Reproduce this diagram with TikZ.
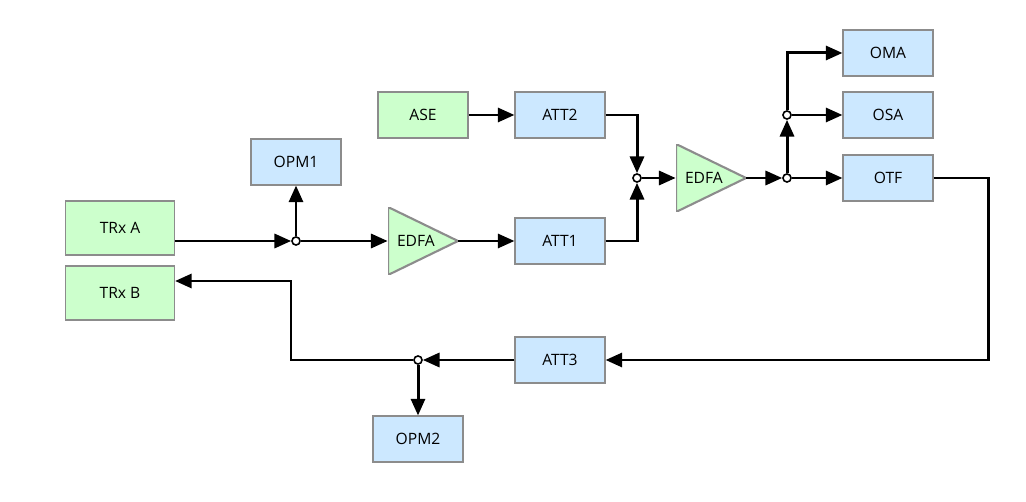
\documentclass[tikz,border=0pt]{standalone}
\usepackage{fontspec}
\setmainfont{Open Sans}
\usetikzlibrary{arrows.meta}
\definecolor{boxblue}{RGB}{204,232,255}
\definecolor{boxgreen}{RGB}{204,255,204}
\definecolor{boxline}{RGB}{140,140,140}
\begin{document}
\begin{tikzpicture}[x=0.02cm,y=-0.02cm,
      font=\fontsize{8.9}{10}\selectfont,
      unit box/.style={rectangle,draw=boxline,line width=0.6pt,fill=boxblue,
        minimum width=1.8cm,minimum height=0.92cm,inner sep=0pt},
      src box/.style={unit box,fill=boxgreen},
      trx box/.style={src box,minimum width=2.18cm,minimum height=1.08cm},
      amp node/.style={rectangle,minimum width=1.4cm,minimum height=1.36cm,
        inner xsep=0.18cm,inner ysep=0pt,text width=1.04cm,align=left,
        path picture={\draw[fill=boxgreen,draw=boxline,line width=1.2pt]
          (path picture bounding box.north west) -- (path picture bounding box.east)
          -- (path picture bounding box.south west) -- cycle;}},
      junction/.style={circle,draw,fill=white,line width=0.9pt,inner sep=0pt,minimum size=4.6pt},
      link/.style={line width=1.7pt,-{Triangle[length=9.5pt,width=8pt]}}]

      \useasboundingbox (0,0) rectangle (1026,502);

      % sources and units
      \node[trx box] (trxa) at (120,228) {TRx A};
      \node[trx box] (trxb) at (120,293) {TRx B};
      \node[unit box] (opm1) at (296,162) {OPM1};
      \node[src box] (ase) at (423,115) {ASE};
      \node[unit box] (att2) at (560,115) {ATT2};
      \node[unit box] (att1) at (560,241) {ATT1};
      \node[unit box] (oma) at (888,53) {OMA};
      \node[unit box] (osa) at (888,115) {OSA};
      \node[unit box] (otf) at (888,178) {OTF};
      \node[unit box] (att3) at (560,360) {ATT3};
      \node[unit box] (opm2) at (418,439) {OPM2};

      % amplifiers
      \node[amp node] (edfa1) at (423,241) {EDFA};
      \node[amp node] (edfa2) at (711,178) {EDFA};

      % splitters and combiners
      \node[junction] (j1) at (296,241) {};
      \node[junction] (j2) at (637,178) {};
      \node[junction] (j3) at (787,178) {};
      \node[junction] (j4) at (787,115) {};
      \node[junction] (j5) at (418,360) {};
      \coordinate (loop) at (988,360);
      \coordinate (back) at (291,281);

      \draw[link] (trxa.east |- j1) -- (j1);
      \draw[link] (j1) -- (opm1);
      \draw[link] (j1) -- (edfa1.west);
      \draw[link] (edfa1.east) -- (att1);
      \draw[link] (att1.east) -| (j2);
      \draw[link] (ase) -- (att2);
      \draw[link] (att2.east) -| (j2);
      \draw[link] (j2) -- (edfa2.west);
      \draw[link] (edfa2.east) -- (j3);
      \draw[link] (j3) -- (otf);
      \draw[link] (j3) -- (j4);
      \draw[link] (j4) -- (osa);
      \draw[link] (j4) |- (oma);
      \draw[link] (otf.east) -| (loop) -- (att3);
      \draw[link] (att3) -- (j5);
      \draw[link] (j5) -- (opm2);
      \draw[link] (j5) -| (back) -- (trxb.east |- back);
    \end{tikzpicture}
\end{document}
